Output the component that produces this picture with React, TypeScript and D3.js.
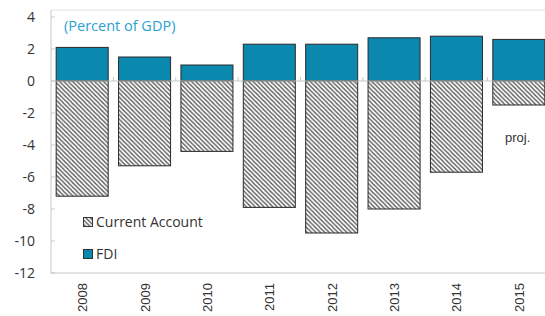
import * as d3 from 'd3';

const years = ['2008', '2009', '2010', '2011', '2012', '2013', '2014', '2015'];
const fdi = [2.1, 1.5, 1.0, 2.3, 2.3, 2.7, 2.8, 2.6];
const currentAccount = [-7.2, -5.3, -4.4, -7.9, -9.5, -8.0, -5.7, -1.5];
const yTicks = [4, 2, 0, -2, -4, -6, -8, -10, -12];

const W = 545;
const H = 316;
const left = 51;
const right = 550;
const top = 10;
const bottom = 273;

const BLUE = '#0b88ae';
const GRID = '#c8c8c8';

export default function App() {
  const x = d3.scaleBand().domain(years).range([left, right]).paddingInner(0.166).paddingOuter(0.083);
  const y = d3.scaleLinear().domain([-12, 4]).range([bottom, 17]);
  const step = x.step();
  const font = "'Open Sans', 'Noto Sans', sans-serif";

  return (
    <svg width={W} height={H} style={{ position: 'absolute', left: 0, top: 0, background: '#fff' }}>
      <defs>
        <pattern id="hatch" patternUnits="userSpaceOnUse" width={4.4} height={4.4}>
          <rect width={4.4} height={4.4} fill="#fff" />
          <path d="M-1,-1 L5.4,5.4 M3.4,-1 L5.4,1 M-1,3.4 L1,5.4" stroke="#555" strokeWidth={1.4} />
        </pattern>
      </defs>

      {/* frame */}
      <line x1={left} x2={W} y1={top} y2={top} stroke="#e0e0e0" />
      <line x1={left} x2={left} y1={top} y2={bottom} stroke={GRID} />
      <line x1={left} x2={W} y1={bottom} y2={bottom} stroke={GRID} />

      {yTicks.map((t) => (
        <g key={t}>
          <line x1={left} x2={left + 4} y1={y(t)} y2={y(t)} stroke={GRID} />
          <text x={35} y={y(t)} dy="0.35em" textAnchor="end" fontSize={14} fontFamily={font} fill="#333">
            {t}
          </text>
        </g>
      ))}

      {/* bars */}
      {years.map((yr, i) => (
        <g key={yr}>
          <rect
            x={x(yr)}
            y={y(fdi[i])}
            width={x.bandwidth()}
            height={y(0) - y(fdi[i])}
            fill={BLUE}
            stroke="#2a2a2a"
            strokeWidth={1}
          />
          <rect
            x={x(yr)}
            y={y(0)}
            width={x.bandwidth()}
            height={y(currentAccount[i]) - y(0)}
            fill="url(#hatch)"
            stroke="#2a2a2a"
            strokeWidth={1}
          />
        </g>
      ))}

      {/* zero line with category ticks */}
      <line x1={left} x2={W} y1={y(0)} y2={y(0)} stroke={GRID} strokeWidth={1.2} />
      {d3.range(1, years.length).map((k) => (
        <line key={k} x1={left + k * step} x2={left + k * step} y1={y(0) - 4} y2={y(0)} stroke={GRID} />
      ))}

      {/* x labels */}
      {years.map((yr) => {
        const cx = (x(yr) ?? 0) + x.bandwidth() / 2;
        return (
          <text
            key={yr}
            transform={`translate(${cx + 5},283) rotate(-90)`}
            textAnchor="end"
            fontSize={13}
            fontFamily="'Liberation Sans', Arial, sans-serif"
            fill="#333"
          >
            {yr}
          </text>
        );
      })}

      <text x={64} y={31} fontSize={14.5} fontFamily={font} fill="#2a9fd0">
        (Percent of GDP)
      </text>
      <text x={505} y={142} fontSize={13} fontFamily="'Liberation Sans', Arial, sans-serif" fill="#333">
        proj.
      </text>

      {/* legend */}
      <rect x={83.5} y={217.5} width={9} height={9} fill="url(#hatch)" stroke="#333" />
      <text x={96} y={227} fontSize={14} fontFamily={font} fill="#333">
        Current Account
      </text>
      <rect x={83.5} y={249.5} width={9} height={9} fill={BLUE} stroke="#333" />
      <text x={96} y={259} fontSize={14} fontFamily={font} fill="#333">
        FDI
      </text>
    </svg>
  );
}
